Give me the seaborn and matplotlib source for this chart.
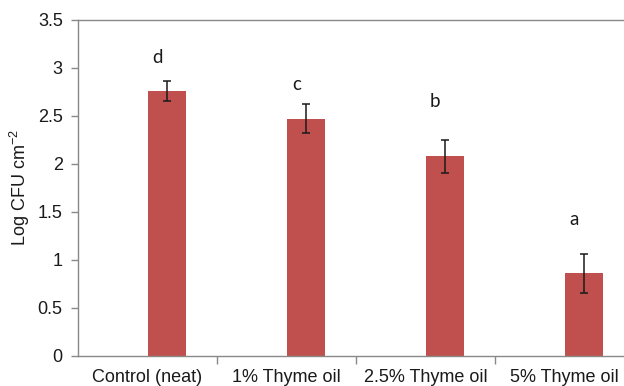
import matplotlib
matplotlib.use("Agg")
import matplotlib.pyplot as plt
import seaborn as sns
import pandas as pd
import numpy as np

categories = ["Control (neat)", "1% Thyme oil", "2.5% Thyme oil", "5% Thyme oil"]
means = [2.76, 2.47, 2.08, 0.86]
errors = [0.10, 0.15, 0.17, 0.20]
letters = ["d", "c", "b", "a"]
letter_y = [3.11, 2.83, 2.65, 1.42]
y_ticks = [0, 0.5, 1, 1.5, 2, 2.5, 3, 3.5]
y_tick_labels = ["0", "0.5", "1", "1.5", "2", "2.5", "3", "3.5"]

sns.set_theme(style="white")
plt.rcParams["font.family"] = ["Liberation Sans", "DejaVu Sans"]
plt.rcParams["mathtext.fontset"] = "custom"
plt.rcParams["mathtext.rm"] = "Liberation Sans"
plt.rcParams["mathtext.it"] = "Liberation Sans"

df = pd.DataFrame({
    "category": categories * 2,
    "series": ["blank"] * 4 + ["value"] * 4,
    "value": [np.nan] * 4 + means,
})

fig = plt.figure(figsize=(6.24, 3.86), dpi=100)
ax = fig.add_axes([78 / 624, 1 - 356 / 386, 556 / 624, 336 / 386])

sns.barplot(data=df, x="category", y="value", hue="series",
            hue_order=["blank", "value"], order=categories,
            palette={"blank": "#C0504D", "value": "#C0504D"},
            width=0.56, errorbar=None, legend=False, ax=ax,
            saturation=1, linewidth=0)

bars = [p for p in ax.patches if np.isfinite(p.get_height()) and p.get_height() > 0]
bars.sort(key=lambda p: p.get_x())
xs = [p.get_x() + p.get_width() / 2 for p in bars]

ax.errorbar(xs, means, yerr=errors, fmt="none", ecolor="#1a1a1a",
            elinewidth=1.1, capsize=3, capthick=1.1, zorder=5)

for x, ly, lt in zip(xs, letter_y, letters):
    ax.text(x - 0.07, ly, lt, ha="center", va="center", fontsize=13.5,
            family=["Lato", "DejaVu Sans"], color="#1a1a1a")

ax.set_xlim(-0.5, 3.5)
ax.set_ylim(0, 3.5)
ax.set_yticks(y_ticks)
ax.set_yticklabels(y_tick_labels)
ax.set_xticks(range(len(categories)))
ax.set_xticklabels(categories)
ax.set_xticks([0.5, 1.5, 2.5], minor=True)
ax.tick_params(axis="x", which="major", length=0, pad=9, labelsize=13, colors="#1a1a1a")
ax.tick_params(axis="x", which="minor", length=6, width=1, color="#898989", direction="out", bottom=True)
ax.tick_params(axis="y", which="major", length=5, width=1, color="#898989", direction="out",
               left=True, pad=6, labelsize=13, labelcolor="#1a1a1a")

for s in ["left", "bottom", "top"]:
    ax.spines[s].set_color("#898989")
    ax.spines[s].set_linewidth(1)
ax.spines["right"].set_visible(False)

ax.set_xlabel("")
ax.set_ylabel("Log CFU cm$^{-2}$", fontsize=13, color="#1a1a1a", labelpad=4)

fig.savefig("out.png", dpi=100)
